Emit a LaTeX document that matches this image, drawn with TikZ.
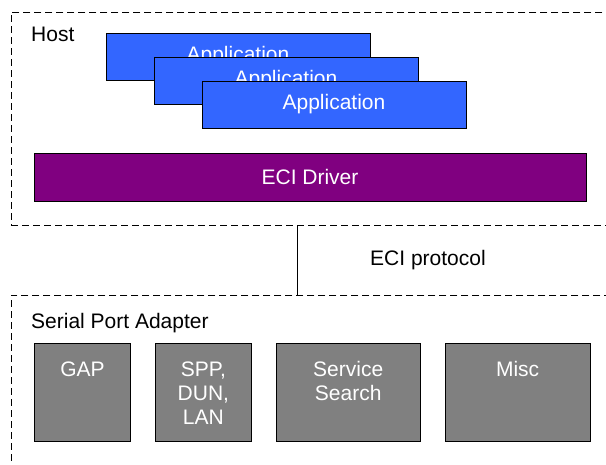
\documentclass[tikz,border=0pt]{standalone}
\usepackage{fontspec}
\setmainfont{Liberation Sans}
\usepackage{xcolor}
\usetikzlibrary{positioning}
\definecolor{appblue}{HTML}{3366FF}
\definecolor{drvpurple}{HTML}{800080}
\definecolor{modgray}{HTML}{808080}

\begin{document}
\begin{tikzpicture}[x=1pt,y=-1pt,
  font=\fontsize{21}{24}\selectfont,
  group/.style={draw,dash pattern=on 7pt off 4pt,line width=0.9pt,
                anchor=north west,inner sep=0pt},
  app/.style={draw,fill=appblue,text=white,line width=0.9pt,
              minimum width=264pt,minimum height=47pt,inner sep=0pt},
  drv/.style={draw,fill=drvpurple,text=white,line width=0.9pt,
              minimum width=552pt,minimum height=48pt,inner sep=0pt},
  module/.style={draw,fill=modgray,line width=0.9pt,anchor=north west,
                 minimum height=98pt,inner sep=0pt},
  modtext/.style={text=white,align=center,anchor=north,yshift=-15pt},
  tag/.style={anchor=west,inner sep=0pt}
]
\useasboundingbox (0,0) rectangle (606,464);
\clip (0,0) rectangle (606,464);

% host side
\node[group,minimum width=640pt,minimum height=213pt] (host) at (11,12) {};
\node[tag] (hostlbl) at (31,34) {Host};
\node[app] (app1) at (238,56.5) {Application};
\node[app] (app2) at ([shift={(48,24)}]app1) {Application};
\node[app] (app3) at ([shift={(48,24)}]app2) {Application};
\node[drv] (drv) at (310,177) {ECI Driver};

% adapter side
\node[group,minimum width=640pt,minimum height=200pt] (spa) at (11,295) {};
\node[tag] (spalbl) at (31,323) {Serial Port Adapter};
\node[module,minimum width=96pt,label={[modtext]north:GAP}] (gap) at (34,343) {};
\node[module,minimum width=96pt,right=24pt of gap,
      label={[modtext]north:SPP,\\DUN,\\LAN}] (spp) {};
\node[module,minimum width=144pt,right=24pt of spp,
      label={[modtext]north:Service\\Search}] (search) {};
\node[module,minimum width=145pt,right=24pt of search,
      label={[modtext]north:Misc}] (misc) {};

% protocol link
\coordinate (link) at (297,0);
\draw[line width=0.9pt] (host.south -| link) -- (spa.north -| link);
\node (proto) at (428,260) {ECI protocol};
\end{tikzpicture}
\end{document}
